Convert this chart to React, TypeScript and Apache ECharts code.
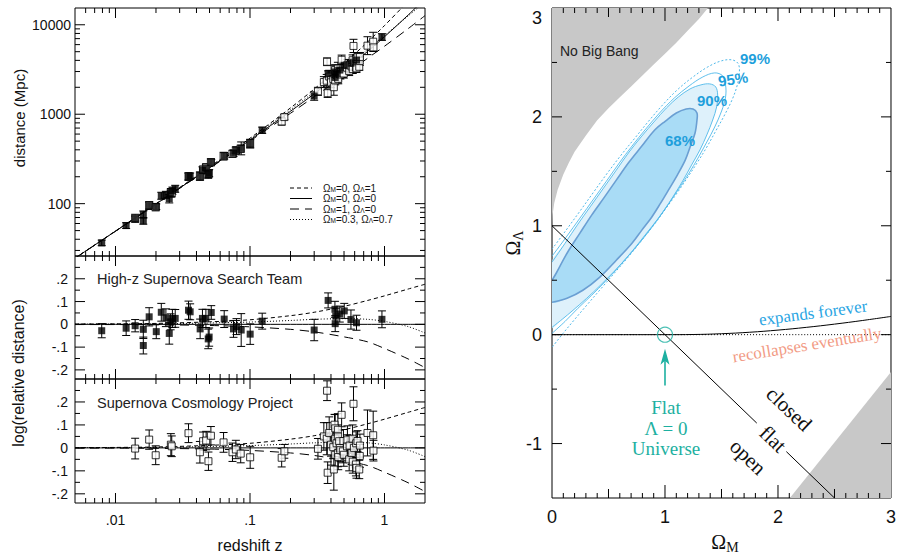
import React, { useEffect, useRef } from 'react';
import * as echarts from 'echarts';

const SANS = '"Liberation Sans", Arial, Helvetica, sans-serif';
const SERIF = '"Liberation Serif", "Times New Roman", Times, serif';

/* ================= Left: Hubble diagram ================= */
const HUBBLE_DIST_MPC = 4900; // c/H0 used to turn log residuals into distances

// High-z Supernova Search Team (filled squares): redshift, log residual, error
const highZ_z = [0.0079, 0.0120, 0.0140, 0.0161, 0.0161, 0.0178, 0.0201, 0.0219, 0.0237, 0.0251, 0.0257, 0.0265, 0.0278, 0.0349, 0.0359, 0.0426, 0.0443, 0.0470, 0.0489, 0.0497, 0.0515, 0.0643, 0.0754, 0.0794, 0.0860, 0.1003, 0.1232, 0.300, 0.381, 0.428, 0.434, 0.430, 0.465, 0.502, 0.563, 0.619, 0.957];
const highZ_res = [-0.028, -0.017, -0.006, -0.022, -0.093, 0.033, -0.032, 0.053, 0.029, -0.040, 0.011, 0.026, 0.026, 0.062, 0.055, -0.020, 0.026, 0.026, -0.064, -0.056, 0.052, 0.023, -0.020, -0.010, -0.025, -0.043, 0.014, -0.025, 0.105, 0.066, 0.036, 0.003, 0.045, 0.059, 0.021, 0.007, 0.022];
const highZ_err = [0.031, 0.032, 0.027, 0.040, 0.037, 0.040, 0.031, 0.039, 0.039, 0.047, 0.035, 0.040, 0.039, 0.040, 0.035, 0.043, 0.040, 0.040, 0.043, 0.040, 0.030, 0.037, 0.037, 0.035, 0.072, 0.045, 0.035, 0.047, 0.033, 0.035, 0.035, 0.035, 0.035, 0.033, 0.042, 0.033, 0.037];

// Supernova Cosmology Project (open squares)
const scp_z = [0.0140, 0.0178, 0.0199, 0.0258, 0.0262, 0.0349, 0.0424, 0.0448, 0.0472, 0.0491, 0.0512, 0.0636, 0.0741, 0.0785, 0.0853, 0.1003,
  0.172, 0.180, 0.320, 0.354, 0.374, 0.378, 0.372, 0.388, 0.400, 0.400, 0.416, 0.420, 0.425, 0.430, 0.430, 0.430, 0.440, 0.450, 0.450, 0.450, 0.453, 0.460, 0.465, 0.470, 0.480, 0.490, 0.495, 0.498, 0.526, 0.530, 0.546, 0.550, 0.570, 0.579, 0.581, 0.588, 0.592, 0.613, 0.615, 0.619, 0.630, 0.649, 0.655, 0.656, 0.747, 0.824, 0.828];
const scp_res = [-0.003, 0.036, -0.032, 0.014, 0.007, 0.064, -0.019, 0.029, 0.032, -0.058, 0.053, 0.024, -0.019, -0.007, -0.025, -0.041,
  -0.043, -0.015, -0.004, 0.050, 0.249, -0.108, 0.040, 0.065, 0.014, -0.015, 0.003, -0.094, 0.101, 0.085, -0.030, 0.040, 0.020, 0.079, -0.022, 0.050, -0.040, 0.029, 0.000, -0.010, 0.144, -0.015, 0.030, -0.030, 0.007, 0.036, -0.050, 0.010, -0.022, 0.040, -0.060, 0.192, 0.000, -0.072, 0.020, -0.087, 0.030, -0.094, -0.035, 0.010, 0.065, 0.055, -0.012];
const scp_err = [0.045, 0.042, 0.041, 0.048, 0.045, 0.041, 0.047, 0.040, 0.040, 0.040, 0.040, 0.043, 0.040, 0.040, 0.040, 0.048,
  0.040, 0.030, 0.045, 0.060, 0.043, 0.047, 0.070, 0.070, 0.050, 0.060, 0.050, 0.090, 0.045, 0.060, 0.050, 0.055, 0.045, 0.070, 0.060, 0.050, 0.055, 0.050, 0.045, 0.050, 0.052, 0.050, 0.050, 0.050, 0.050, 0.060, 0.050, 0.045, 0.050, 0.060, 0.050, 0.074, 0.050, 0.050, 0.050, 0.045, 0.045, 0.040, 0.050, 0.050, 0.100, 0.105, 0.045];

// Model curves: log(distance / empty-universe distance)
const modelZ = [0.005, 0.01, 0.02, 0.05, 0.1, 0.2, 0.3, 0.5, 0.75, 1.0, 1.5, 2.0];
const res_M0_L1 = [0.001, 0.002, 0.004, 0.011, 0.020, 0.038, 0.053, 0.079, 0.105, 0.125, 0.155, 0.176];
const res_M0_L0 = [0, 0, 0, 0, 0, 0, 0, 0, 0, 0, 0, 0];
const res_M1_L0 = [-0.001, -0.001, -0.002, -0.005, -0.011, -0.022, -0.033, -0.055, -0.077, -0.106, -0.152, -0.19];
const res_M03_L07 = [0.001, 0.001, 0.002, 0.006, 0.010, 0.017, 0.022, 0.025, 0.022, 0.013, -0.010, -0.038];

// Ticks
const zMajorTicks = [0.01, 0.1, 1];
const zTickLabels = ['.01', '.1', '1'];
const zMinorTicks = [0.006, 0.007, 0.008, 0.009, 0.02, 0.03, 0.04, 0.05, 0.06, 0.07, 0.08, 0.09, 0.2, 0.3, 0.4, 0.5, 0.6, 0.7, 0.8, 0.9];
const distMajorTicks = [100, 1000, 10000];
const distTickLabels = ['100', '1000', '10000'];
const distMinorTicks = [30, 40, 50, 60, 70, 80, 90, 200, 300, 400, 500, 600, 700, 800, 900, 2000, 3000, 4000, 5000, 6000, 7000, 8000, 9000];
const resMajorTicks = [-0.2, -0.1, 0, 0.1, 0.2];
const resTickLabels = ['-.2', '-.1', '0', '.1', '.2'];
const resMinorTicks = [-0.15, -0.05, 0.05, 0.15, 0.25];

/* ================= Right: Omega_M vs Omega_Lambda ================= */
const c68 = [[0, 0.50], [0.037, 0.564], [0.133, 0.748], [0.247, 0.932], [0.351, 1.098], [0.464, 1.263], [0.569, 1.419], [0.682, 1.585], [0.795, 1.732], [0.909, 1.880], [1.004, 1.962], [1.100, 2.036], [1.187, 2.073], [1.248, 2.073], [1.283, 2.036], [1.283, 1.971], [1.266, 1.852], [1.222, 1.723], [1.179, 1.603], [1.109, 1.466], [1.030, 1.327], [0.961, 1.208], [0.882, 1.079], [0.795, 0.960], [0.708, 0.840], [0.569, 0.684], [0.421, 0.527], [0.273, 0.408], [0.133, 0.334], [0, 0.297]];
const c90 = [[0, 0.665], [0.116, 0.840], [0.229, 1.015], [0.342, 1.180], [0.456, 1.346], [0.569, 1.511], [0.682, 1.677], [0.795, 1.824], [0.909, 1.962], [1.013, 2.082], [1.118, 2.183], [1.222, 2.257], [1.318, 2.294], [1.396, 2.303], [1.449, 2.275], [1.466, 2.201], [1.457, 2.091], [1.422, 1.971], [1.370, 1.834], [1.309, 1.696], [1.240, 1.567], [1.161, 1.419], [1.074, 1.272], [0.987, 1.134], [0.891, 0.996], [0.787, 0.858], [0.673, 0.720], [0.551, 0.582], [0.429, 0.454], [0.307, 0.334], [0.186, 0.224], [0.090, 0.141], [0, 0.067]];
const c95 = [[0, 0.720], [0.125, 0.895], [0.247, 1.070], [0.368, 1.245], [0.482, 1.410], [0.595, 1.576], [0.708, 1.732], [0.830, 1.889], [0.952, 2.036], [1.083, 2.174], [1.213, 2.284], [1.335, 2.367], [1.440, 2.404], [1.510, 2.377], [1.536, 2.294], [1.536, 2.183], [1.501, 2.054], [1.440, 1.907], [1.370, 1.769], [1.292, 1.622], [1.213, 1.484], [1.126, 1.346], [1.030, 1.199], [0.935, 1.061], [0.830, 0.923], [0.717, 0.776], [0.595, 0.628], [0.473, 0.490], [0.351, 0.362], [0.229, 0.242], [0.116, 0.122], [0, 0.012]];
const c99 = [[0, 0.785], [0.125, 0.960], [0.247, 1.134], [0.368, 1.309], [0.490, 1.484], [0.612, 1.650], [0.734, 1.806], [0.856, 1.962], [0.987, 2.119], [1.118, 2.257], [1.248, 2.367], [1.379, 2.459], [1.501, 2.515], [1.597, 2.523], [1.649, 2.487], [1.658, 2.404], [1.640, 2.294], [1.597, 2.165], [1.527, 2.017], [1.449, 1.870], [1.370, 1.723], [1.283, 1.576], [1.196, 1.438], [1.100, 1.291], [1.004, 1.153], [0.900, 1.005], [0.787, 0.858], [0.673, 0.711], [0.551, 0.564], [0.429, 0.417], [0.307, 0.270], [0.194, 0.132], [0.098, 0.012], [0, -0.117]];
const noBigBang = [[-0.1, 0.9], [0, 1.0], [0.005, 1.1], [0.02, 1.21], [0.05, 1.33], [0.1, 1.47], [0.15, 1.58], [0.2, 1.68], [0.3, 1.83], [0.4, 1.97], [0.5, 2.08], [0.6, 2.18], [0.7, 2.28], [0.8, 2.38], [0.9, 2.48], [1.0, 2.58], [1.1, 2.68], [1.2, 2.79], [1.3, 2.9], [1.38, 3.0], [1.45, 3.1], [-0.1, 3.1]];
const lowerGray = [[2.105, -1.5], [3.0, -0.344], [3.0, -1.5]];
const flatLineA = [[0, 1], [1.812, -0.812]];
const flatLineB = [[2.074, -1.074], [2.5, -1.5]];
const zeroLambda = [[0, 0], [3, 0]];
const recollapse = [[0, 0], [1, 0], [1.25, 0.0015], [1.5, 0.0087], [1.75, 0.0223], [2, 0.0419], [2.25, 0.067], [2.5, 0.0967], [2.75, 0.1305], [3, 0.1674]];
const flatUniverse = [[1, 0]];
const arrowLine = [[1, -0.466], [1, -0.129]];

const omTickValues = [0, 1, 2, 3];
const omTickLabels = ['0', '1', '2', '3'];
const omMajorTicks = [1, 2];
const omHalfTicks = [0.5, 1.5, 2.5];
const omMinorTicks = [0.1, 0.2, 0.3, 0.4, 0.6, 0.7, 0.8, 0.9, 1.1, 1.2, 1.3, 1.4, 1.6, 1.7, 1.8, 1.9, 2.1, 2.2, 2.3, 2.4, 2.6, 2.7, 2.8, 2.9];
const olTickValues = [-1, 0, 1, 2, 3];
const olTickLabels = ['-1', '0', '1', '2', '3'];
const olMajorTicks = [-1, 0, 1, 2];
const olMinorTicks = [-0.5, 0.5, 1.5, 2.5];

const TEAL = '#1db0a1';
const BLUE = '#1e9fdc';
const CONTOUR = '#4fb9ea';

function labelFmt(vals: number[], labels: string[], log: boolean) {
  return (v: number) => {
    const i = vals.findIndex((t) => (log ? Math.abs(Math.log10(t) - Math.log10(v)) < 1e-6 : Math.abs(t - v) < 1e-6));
    return i >= 0 ? labels[i] : '';
  };
}

function tickSeries(gi: number, axis: 'x' | 'y', values: number[], len: number, ref: number) {
  return {
    type: 'custom', xAxisIndex: gi, yAxisIndex: gi, z: 30, silent: true,
    data: values.map((v) => (axis === 'x' ? [v, ref] : [ref, v])),
    renderItem: (params: any, api: any) => {
      const cs = params.coordSys;
      const p = api.coord([api.value(0), api.value(1)]);
      const st = { stroke: '#000', lineWidth: 1, fill: 'none' };
      if (axis === 'x') {
        const x = p[0];
        return {
          type: 'group', children: [
            { type: 'line', shape: { x1: x, y1: cs.y + cs.height, x2: x, y2: cs.y + cs.height - len }, style: st },
            { type: 'line', shape: { x1: x, y1: cs.y, x2: x, y2: cs.y + len }, style: st },
          ],
        };
      }
      const y = p[1];
      return {
        type: 'group', children: [
          { type: 'line', shape: { x1: cs.x, y1: y, x2: cs.x + len, y2: y }, style: st },
          { type: 'line', shape: { x1: cs.x + cs.width, y1: y, x2: cs.x + cs.width - len, y2: y }, style: st },
        ],
      };
    },
  };
}

function errorSeries(gi: number, items: number[][]) {
  return {
    type: 'custom', xAxisIndex: gi, yAxisIndex: gi, z: 10, silent: true, clip: true,
    data: items,
    encode: { x: 0, y: 1 },
    renderItem: (params: any, api: any) => {
      const x = api.value(0);
      const lo = api.coord([x, api.value(2)]);
      const hi = api.coord([x, api.value(3)]);
      const cap = 4;
      const st = { stroke: '#000', lineWidth: 1, fill: 'none' };
      return {
        type: 'group', children: [
          { type: 'line', shape: { x1: lo[0], y1: lo[1], x2: hi[0], y2: hi[1] }, style: st },
          { type: 'line', shape: { x1: lo[0] - cap, y1: lo[1], x2: lo[0] + cap, y2: lo[1] }, style: st },
          { type: 'line', shape: { x1: hi[0] - cap, y1: hi[1], x2: hi[0] + cap, y2: hi[1] }, style: st },
        ],
      };
    },
  };
}

function markerSeries(gi: number, data: number[][], filled: boolean) {
  return {
    type: 'scatter', xAxisIndex: gi, yAxisIndex: gi, z: 12, silent: true,
    data, symbol: 'rect', symbolSize: 7,
    itemStyle: filled ? { color: '#000' } : { color: '#fff', borderColor: '#000', borderWidth: 1 },
  };
}

function lineSeries(gi: number, data: number[][], dash: any, z = 5, color = '#000', width = 1) {
  return {
    type: 'line', xAxisIndex: gi, yAxisIndex: gi, data, showSymbol: false, symbol: 'none',
    smooth: 0.3, z, silent: true, lineStyle: { color, width, type: dash },
  };
}

function shapeSeries(pts: number[][], kind: string, style: any, z: number, smooth: number) {
  return {
    type: 'custom', xAxisIndex: 3, yAxisIndex: 3, z, silent: true, clip: true,
    data: [pts[0]],
    renderItem: (params: any, api: any) => ({
      type: kind,
      shape: { points: pts.map((p) => api.coord(p)), smooth },
      style,
    }),
  };
}

const DASH_SHORT = [4, 3];
const DASH_LONG = [9, 6];
const DOT = [1, 2];

function buildOption() {
  const dist = (z: number, r: number) => HUBBLE_DIST_MPC * z * (1 + z / 2) * Math.pow(10, r);
  const topPts = (zs: number[], rs: number[]) => zs.map((z, i) => [z, dist(z, rs[i])]);
  const topErr = (zs: number[], rs: number[], es: number[]) => zs.map((z, i) => [z, dist(z, rs[i]), dist(z, rs[i] - es[i]), dist(z, rs[i] + es[i])]);
  const resPts = (zs: number[], rs: number[]) => zs.map((z, i) => [z, rs[i]]);
  const resErr = (zs: number[], rs: number[], es: number[]) => zs.map((z, i) => [z, rs[i], rs[i] - es[i], rs[i] + es[i]]);
  const topModel = (rs: number[]) => modelZ.map((z, i) => [z, dist(z, rs[i])]);
  const resModel = (rs: number[]) => modelZ.map((z, i) => [z, rs[i]]);

  const gridBase = { show: true, borderColor: '#000', borderWidth: 1, backgroundColor: 'rgba(0,0,0,0)' };
  const leftLabel = { fontFamily: SANS, fontSize: 14, color: '#111' };

  const leftX = (gi: number, show: boolean) => ({
    type: 'log', logBase: 10, gridIndex: gi, min: 0.005, max: 2,
    axisLine: { show: false }, axisTick: { show: false }, splitLine: { show: false }, minorTick: { show: false },
    axisLabel: { show, showMinLabel: false, showMaxLabel: false, margin: 10, formatter: labelFmt(zMajorTicks, zTickLabels, true), ...leftLabel },
  });
  const resY = (gi: number) => ({
    type: 'value', gridIndex: gi, min: -0.24, max: 0.3,
    axisLine: { show: false }, axisTick: { show: false }, splitLine: { show: false },
    axisLabel: { showMinLabel: false, showMaxLabel: false, margin: 7, formatter: labelFmt(resMajorTicks, resTickLabels, false), ...leftLabel },
  });

  const series: any[] = [];
  for (const gi of [0, 1, 2]) {
    const yref = gi === 0 ? 100 : 0;
    series.push(tickSeries(gi, 'x', zMajorTicks, 10, yref));
    series.push(tickSeries(gi, 'x', zMinorTicks, 5, yref));
  }
  series.push(tickSeries(0, 'y', distMajorTicks, 10, 0.1));
  series.push(tickSeries(0, 'y', distMinorTicks, 5, 0.1));
  for (const gi of [1, 2]) {
    series.push(tickSeries(gi, 'y', resMajorTicks, 10, 0.1));
    series.push(tickSeries(gi, 'y', resMinorTicks, 5, 0.1));
  }
  const models: [number[], any][] = [[res_M0_L1, DASH_SHORT], [res_M0_L0, 'solid'], [res_M1_L0, DASH_LONG], [res_M03_L07, DOT]];
  for (const [rs, dash] of models) {
    series.push(lineSeries(0, topModel(rs), dash));
    series.push(lineSeries(1, resModel(rs), dash));
    series.push(lineSeries(2, resModel(rs), dash));
  }
  series.push(errorSeries(0, topErr(scp_z, scp_res, scp_err)));
  series.push(errorSeries(0, topErr(highZ_z, highZ_res, highZ_err)));
  series.push(markerSeries(0, topPts(scp_z, scp_res), false));
  series.push(markerSeries(0, topPts(highZ_z, highZ_res), true));
  series.push(errorSeries(1, resErr(highZ_z, highZ_res, highZ_err)));
  series.push(markerSeries(1, resPts(highZ_z, highZ_res), true));
  series.push(errorSeries(2, resErr(scp_z, scp_res, scp_err)));
  series.push(markerSeries(2, resPts(scp_z, scp_res), false));

  // right panel
  series.push(shapeSeries(noBigBang, 'polygon', { fill: '#c8c8c8', stroke: 'none' }, 1, 0));
  series.push(shapeSeries(lowerGray, 'polygon', { fill: '#c8c8c8', stroke: 'none' }, 1, 0));
  series.push(shapeSeries(c90, 'polygon', { fill: '#def1fb', stroke: 'none' }, 2, 0.35));
  series.push(shapeSeries(c68, 'polygon', { fill: '#a9dcf6', stroke: 'none' }, 3, 0.35));
  series.push(shapeSeries(c90, 'polyline', { fill: 'none', stroke: CONTOUR, lineWidth: 0.9 }, 4, 0.35));
  series.push(shapeSeries(c95, 'polyline', { fill: 'none', stroke: CONTOUR, lineWidth: 0.9 }, 4, 0.35));
  series.push(shapeSeries(c99, 'polyline', { fill: 'none', stroke: CONTOUR, lineWidth: 1, lineDash: [2, 2] }, 4, 0.35));
  series.push(shapeSeries(c68, 'polyline', { fill: 'none', stroke: '#6a9fd3', lineWidth: 1.6 }, 4, 0.35));
  series.push(lineSeries(3, zeroLambda, DOT, 6));
  series.push({ ...lineSeries(3, recollapse, 'solid', 6), smooth: 0.4 });
  series.push({ ...lineSeries(3, flatLineA, 'solid', 6), smooth: false });
  series.push({ ...lineSeries(3, flatLineB, 'solid', 6), smooth: false });
  series.push({
    type: 'scatter', xAxisIndex: 3, yAxisIndex: 3, z: 8, silent: true, data: flatUniverse,
    symbol: 'circle', symbolSize: 15, itemStyle: { color: 'rgba(0,0,0,0)', borderColor: TEAL, borderWidth: 1.2 },
  });
  series.push({
    type: 'custom', xAxisIndex: 3, yAxisIndex: 3, z: 8, silent: true,
    data: [[arrowLine[0][0], arrowLine[0][1], arrowLine[1][0], arrowLine[1][1]]],
    encode: { x: [0, 2], y: [1, 3] },
    renderItem: (params: any, api: any) => {
      const a = api.coord([api.value(0), api.value(1)]);
      const b = api.coord([api.value(2), api.value(3)]);
      return {
        type: 'group', children: [
          { type: 'line', shape: { x1: a[0], y1: a[1], x2: b[0], y2: b[1] + 10 }, style: { stroke: TEAL, lineWidth: 1.6, fill: 'none' } },
          { type: 'polygon', shape: { points: [[b[0], b[1]], [b[0] + 4.5, b[1] + 16], [b[0], b[1] + 12], [b[0] - 4.5, b[1] + 16]] }, style: { fill: TEAL, stroke: 'none' } },
        ],
      };
    },
  });
  series.push(tickSeries(3, 'x', omMajorTicks, 13, 0));
  series.push(tickSeries(3, 'x', omHalfTicks, 9, 0));
  series.push(tickSeries(3, 'x', omMinorTicks, 5, 0));
  series.push(tickSeries(3, 'y', olMajorTicks, 10, 0));
  series.push(tickSeries(3, 'y', olMinorTicks, 5, 0));

  // ---------- graphic texts ----------
  const T = (x: number, y: number, text: string, font: string, fill: string, align = 'center', rotation = 0, rich?: any) => ({
    type: 'text', x, y, rotation, z: 100, silent: true,
    style: { text, font, fill, align, verticalAlign: 'middle', textAlign: align, textVerticalAlign: 'middle', rich },
  });
  const legRich = {
    a: { fontSize: 10, fontFamily: SANS, lineHeight: 9, fill: '#111', color: '#111' },
    s: { fontSize: 6.5, fontFamily: SANS, lineHeight: 6.5, verticalAlign: 'bottom', fill: '#111', color: '#111' },
  };
  const legendRows: [number, any, string][] = [
    [188, DASH_SHORT, '{a|Ω}{s|M}{a|=0, Ω}{s|Λ}{a|=1}'],
    [198.5, null, '{a|Ω}{s|M}{a|=0, Ω}{s|Λ}{a|=0}'],
    [209, DASH_LONG, '{a|Ω}{s|M}{a|=1, Ω}{s|Λ}{a|=0}'],
    [219.5, DOT, '{a|Ω}{s|M}{a|=0.3, Ω}{s|Λ}{a|=0.7}'],
  ];
  const graphics: any[] = [];
  for (const [y, dash, text] of legendRows) {
    graphics.push({ type: 'line', z: 100, silent: true, shape: { x1: 290, y1: y, x2: 312, y2: y }, style: { stroke: '#000', lineWidth: 1, lineDash: dash || undefined, fill: 'none' } });
    graphics.push(T(323, y, text, `10px ${SANS}`, '#111', 'left', 0, legRich));
  }
  graphics.push(T(19, 118, 'distance (Mpc)', `15px ${SANS}`, '#111', 'center', Math.PI / 2));
  graphics.push(T(18, 373, 'log(relative distance)', `16px ${SANS}`, '#111', 'center', Math.PI / 2));
  graphics.push(T(250, 545, 'redshift z', `16px ${SANS}`, '#111'));
  graphics.push(T(97, 279, 'High-z Supernova Search Team', `14.5px ${SANS}`, '#222', 'left'));
  graphics.push(T(97, 403, 'Supernova Cosmology Project', `14.5px ${SANS}`, '#222', 'left'));

  graphics.push(T(560, 51, 'No Big Bang', `14px ${SANS}`, '#222', 'left'));
  const pctFont = `bold 15px ${SANS}`;
  graphics.push(T(680, 140, '68%', pctFont, BLUE));
  graphics.push(T(712, 100, '90%', pctFont, BLUE));
  graphics.push(T(733, 79, '95%', pctFont, BLUE, 'center', 0.15));
  graphics.push(T(755, 58, '99%', pctFont, BLUE));
  graphics.push(T(813, 313, 'expands forever', `17px ${SERIF}`, '#2aa5e3', 'center', 0.13));
  graphics.push(T(807, 345, 'recollapses eventually', `17px ${SERIF}`, '#f29b85', 'center', 0.16));
  graphics.push(T(789, 409, 'closed', `21px ${SERIF}`, '#111', 'center', -0.76));
  graphics.push(T(773, 439, 'flat', `21px ${SERIF}`, '#111', 'center', -0.76));
  graphics.push(T(748, 457, 'open', `21px ${SERIF}`, '#111', 'center', -0.76));
  graphics.push(T(666, 407, 'Flat', `19px ${SERIF}`, TEAL));
  graphics.push(T(666, 428, 'Λ = 0', `19px ${SERIF}`, TEAL));
  graphics.push(T(666, 448, 'Universe', `19px ${SERIF}`, TEAL));
  const omRich = {
    o: { fontSize: 20, fontFamily: SERIF, lineHeight: 24, fill: '#111', color: '#111' },
    m: { fontSize: 14, fontFamily: SERIF, lineHeight: 14, verticalAlign: 'bottom', fill: '#111', color: '#111' },
  };
  graphics.push(T(725, 542, '{o|Ω}{m|M}', `20px ${SERIF}`, '#111', 'center', 0, omRich));
  graphics.push(T(513, 243, '{o|Ω}{m|Λ}', `20px ${SERIF}`, '#111', 'center', Math.PI / 2, omRich));

  return {
    animation: false,
    backgroundColor: '#fff',
    grid: [
      { ...gridBase, left: 75, top: 8, width: 350, height: 248 },
      { ...gridBase, left: 75, top: 256, width: 350, height: 123 },
      { ...gridBase, left: 75, top: 379, width: 350, height: 124 },
      { ...gridBase, left: 552, top: 8, width: 344, height: 490 },
    ],
    xAxis: [
      leftX(0, false), leftX(1, false), leftX(2, true),
      {
        type: 'value', gridIndex: 3, min: 0, max: 3, interval: 1,
        axisLine: { show: false }, axisTick: { show: false }, splitLine: { show: false },
        axisLabel: { margin: 10, fontFamily: SANS, fontSize: 18, color: '#111', formatter: labelFmt(omTickValues, omTickLabels, false) },
      },
    ],
    yAxis: [
      {
        type: 'log', logBase: 10, gridIndex: 0, min: 26, max: 15400,
        axisLine: { show: false }, axisTick: { show: false }, splitLine: { show: false }, minorTick: { show: false },
        axisLabel: { showMinLabel: false, showMaxLabel: false, margin: 4, formatter: labelFmt(distMajorTicks, distTickLabels, true), ...leftLabel },
      },
      resY(1), resY(2),
      {
        type: 'value', gridIndex: 3, min: -1.5, max: 3,
        axisLine: { show: false }, axisTick: { show: false }, splitLine: { show: false },
        axisLabel: {
          showMinLabel: false, margin: 10, fontFamily: SANS, fontSize: 18, color: '#111',
          formatter: (v: number) => {
            const s = labelFmt(olTickValues, olTickLabels, false)(v);
            return s === '3' ? '{t|3}' : s;
          },
          rich: { t: { padding: [20, 0, 0, 0], fontSize: 18, fontFamily: SANS, color: '#111' } },
        },
      },
    ],
    series,
    graphic: { elements: graphics },
  };
}

export default function App() {
  const ref = useRef<HTMLDivElement>(null);
  useEffect(() => {
    if (!ref.current) return;
    const chart = echarts.init(ref.current, null, { renderer: 'svg' });
    chart.setOption(buildOption() as any);
    return () => chart.dispose();
  }, []);
  return <div ref={ref} style={{ position: 'fixed', left: 0, top: 0, width: 899, height: 556, background: '#fff' }} />;
}
